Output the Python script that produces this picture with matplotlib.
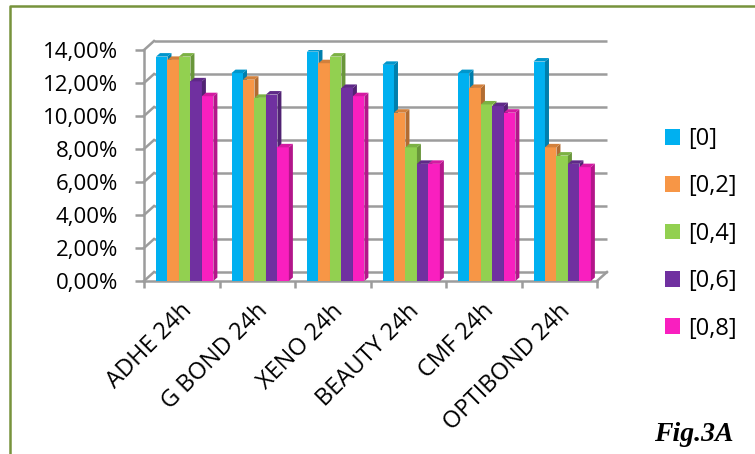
import matplotlib
matplotlib.use('Agg')
import matplotlib.pyplot as plt
from matplotlib.patches import Polygon
from matplotlib.lines import Line2D
from matplotlib.transforms import ScaledTranslation
import numpy as np

plt.rcParams['font.family'] = ['Open Sans', 'DejaVu Sans']

# data (percent)
categories = ['ADHE 24h', 'G BOND 24h', 'XENO 24h', 'BEAUTY 24h', 'CMF 24h', 'OPTIBOND 24h']
series_names = ['[0]', '[0,2]', '[0,4]', '[0,6]', '[0,8]']
s_0 = [13.6, 12.6, 13.9, 13.1, 12.6, 13.3]
s_02 = [13.4, 12.2, 13.2, 10.2, 11.7, 8.1]
s_04 = [13.6, 11.1, 13.6, 8.1, 10.7, 7.6]
s_06 = [12.1, 11.3, 11.7, 7.1, 10.6, 7.1]
s_08 = [11.2, 8.1, 11.2, 7.1, 10.2, 6.9]
yticks = [0, 2, 4, 6, 8, 10, 12, 14]

colors = ['#00B0F0', '#F79646', '#92D050', '#7030A0', '#F91FBF']
grid_col = '#9C9C9C'

W, H = 755, 454
fig = plt.figure(figsize=(W / 100, H / 100), dpi=100)
ax = fig.add_axes([144 / W, 1 - 281 / H, 453 / W, 231 / H])
ax.set_xlim(-0.5, 5.5)
ax.set_ylim(0, 14)

# pixel -> data units
cx = 6 / 453
cy = 14 / 231
DX, DY = 10 * cx, 9 * cy      # wall depth
bdx, bdy = 4 * cx, 3.5 * cy   # bar depth

# back wall gridlines and side-wall diagonals
for t in yticks:
    ax.plot([-0.5 + DX, 5.5 + DX], [t + DY, t + DY], color=grid_col, lw=1.8,
            clip_on=False, zorder=1, solid_capstyle='butt')
    ax.plot([-0.5, -0.5 + DX], [t, t + DY], color=grid_col, lw=1.8,
            clip_on=False, zorder=1)
ax.plot([5.5, 5.5 + DX], [0, DY], color=grid_col, lw=1.8, clip_on=False, zorder=1)

# bars with a little 3d depth
series = [s_0, s_02, s_04, s_06, s_08]
bw = 0.152
x0 = np.arange(len(categories)) - 0.5 + 0.159

def shade(c, f):
    rgb = np.array(matplotlib.colors.to_rgb(c))
    return tuple(rgb * f)

handles = []
for k, vals in enumerate(series):
    z = 3 + k
    lefts = x0 + k * bw
    bars = ax.bar(lefts, vals, width=bw, align='edge', color=colors[k],
                  zorder=z, linewidth=0)
    handles.append(bars)
    for xl, v in zip(lefts, vals):
        xr = xl + bw
        side = Polygon([(xr, 0), (xr + bdx, bdy), (xr + bdx, v + bdy), (xr, v)],
                       closed=True, color=shade(colors[k], 0.72), lw=0, zorder=z)
        top = Polygon([(xl, v), (xl + bdx, v + bdy), (xr + bdx, v + bdy), (xr, v)],
                      closed=True, color=shade(colors[k], 0.85), lw=0, zorder=z)
        ax.add_patch(side)
        ax.add_patch(top)

for s in ['top', 'right']:
    ax.spines[s].set_visible(False)
for s in ['left', 'bottom']:
    ax.spines[s].set_color(grid_col)
    ax.spines[s].set_linewidth(1.8)
    ax.spines[s].set_zorder(2)

ax.set_yticks(yticks, labels=[('%.2f%%' % t).replace('.', ',') for t in yticks])
ax.tick_params(axis='y', length=6.5, width=1.8, color=grid_col, pad=12, labelsize=16)

ax.set_xticks(range(len(categories)), labels=categories)
ax.set_xticks(np.arange(-0.5, 6, 1), minor=True)
ax.tick_params(axis='x', which='major', length=0, pad=19, labelsize=17)
ax.tick_params(axis='x', which='minor', length=5, width=1.8, color=grid_col)
for lab in ax.get_xticklabels():
    lab.set_rotation(45)
    lab.set_ha('right')
    lab.set_va('center')
    lab.set_rotation_mode('anchor')
    lab.set_transform(lab.get_transform() + ScaledTranslation(0.07, 0, fig.dpi_scale_trans))

fig.legend(handles, series_names, loc='upper left', bbox_to_anchor=(665 / W, 1 - 127 / H),
           frameon=False, borderpad=0, borderaxespad=0, handlelength=0.64,
           handleheight=0.64, handletextpad=0.35, labelspacing=0.99, fontsize=17)

fig.text(734 / W, 1 - 441 / H, 'Fig.3A', ha='right', va='baseline',
         family='Liberation Serif', weight='bold', style='italic', fontsize=20)

# green frame (top and left edges visible)
fig.add_artist(Line2D([9.5 / W, 9.5 / W, 1], [0, 1 - 6 / H, 1 - 6 / H],
                      color='#77933C', lw=1.8))

fig.savefig('out.png', dpi=100)
